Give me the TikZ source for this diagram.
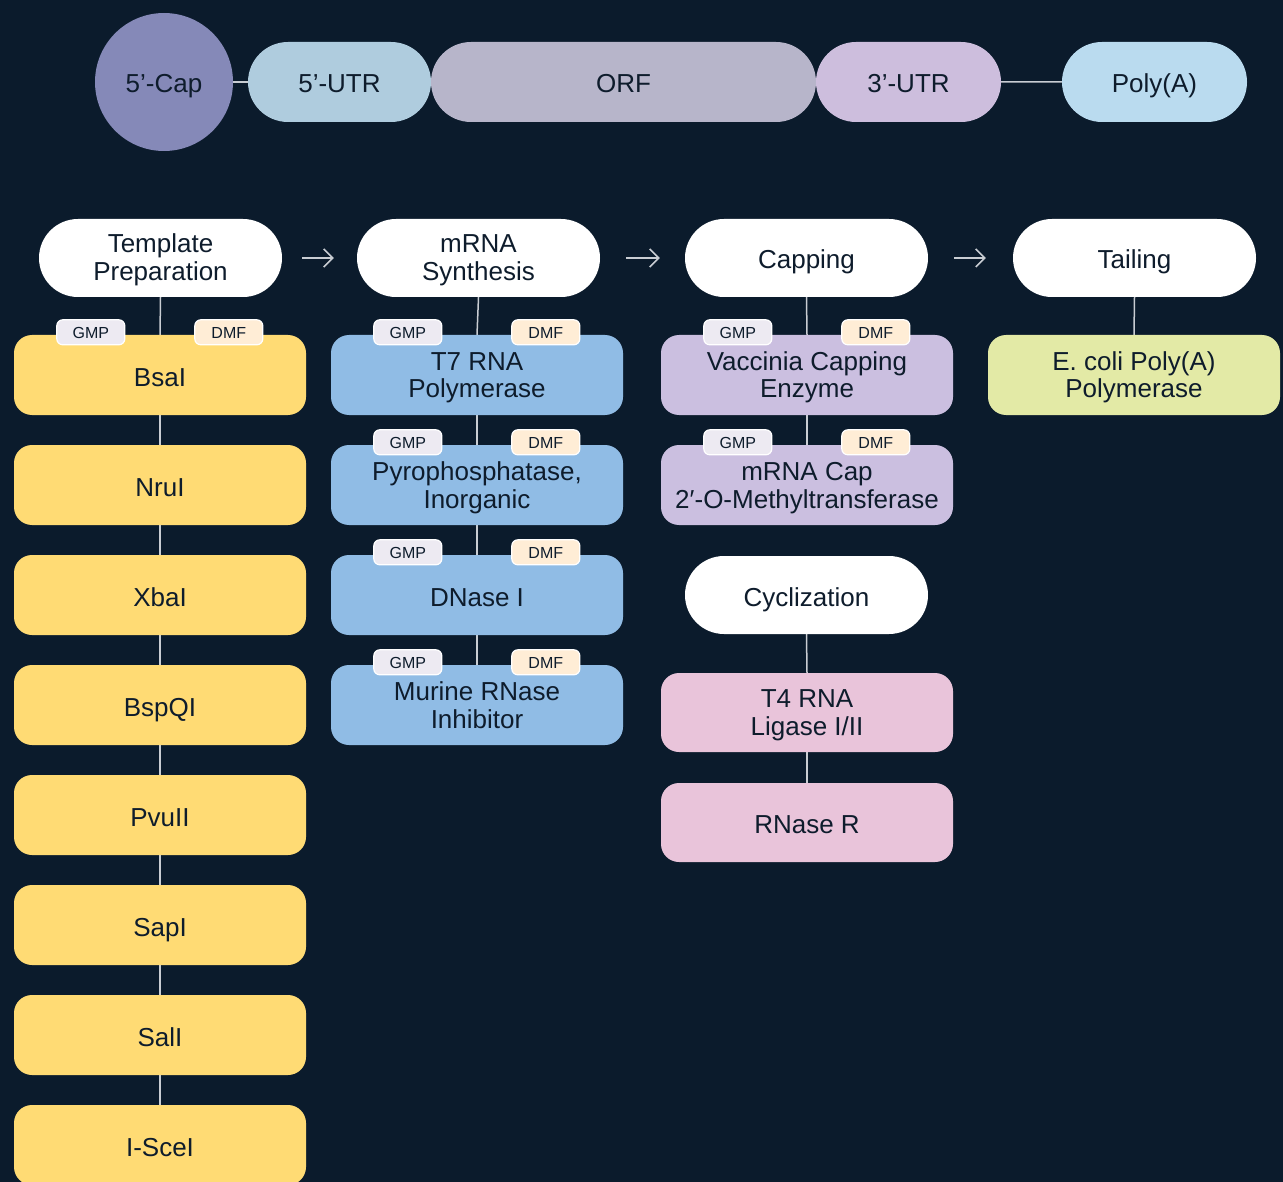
\documentclass[tikz,border=0pt]{standalone}
\usepackage{fontspec}
\setmainfont{Liberation Sans}
\usetikzlibrary{arrows.meta,shapes.misc}
\definecolor{bgc}{HTML}{0B1B2C}
\definecolor{dark}{HTML}{0E1C2C}
\definecolor{capc}{HTML}{8589B8}
\definecolor{utrf}{HTML}{AFCCDE}
\definecolor{orfc}{HTML}{B7B5CA}
\definecolor{utrt}{HTML}{CDBEDD}
\definecolor{polyc}{HTML}{BADBEF}
\definecolor{yel}{HTML}{FFDB74}
\definecolor{blu}{HTML}{90BCE5}
\definecolor{lav}{HTML}{CBBFE0}
\definecolor{pnk}{HTML}{E9C4DA}
\definecolor{grn}{HTML}{E3EAA6}
\definecolor{gmpc}{HTML}{EDEAF2}
\definecolor{dmfc}{HTML}{FFEDD6}
\definecolor{lnc}{HTML}{C9CDD3}
\pgfdeclarelayer{bglayer}
\pgfdeclarelayer{lnlayer}
\pgfsetlayers{bglayer,lnlayer,main}
\newcommand\bigfont{\fontsize{26}{28}\selectfont}
\newcommand\tagfont{\fontsize{16}{16}\selectfont}
\newcommand\ol[1]{\raisebox{0pt}[22pt][0pt]{#1}}
\newcommand\tl[2]{\raisebox{0pt}[46pt][0pt]{\begin{tabular}[b]{@{}c@{}}#1\\#2\end{tabular}}}
\newcommand\mytags[1]{%
  \node[tagbox,fill=gmpc] (#1g) at ([xshift=77pt,yshift=2.5pt]#1.north west) {\raisebox{0pt}[12pt][0pt]{GMP}};
  \node[tagbox,fill=dmfc] (#1d) at ([xshift=215pt,yshift=2.5pt]#1.north west) {\raisebox{0pt}[12pt][0pt]{DMF}};}
\begin{document}
\begin{tikzpicture}[x=1pt,y=-1pt,
  box/.style={rectangle, rounded corners=18pt, minimum width=292pt, minimum height=80pt,
    align=center, font=\bigfont, text=dark, inner sep=0pt},
  pill/.style={rounded rectangle, minimum height=80pt, align=center, font=\bigfont,
    text=dark, inner sep=0pt},
  head/.style={rounded rectangle, minimum height=78pt, minimum width=243pt, fill=white,
    align=center, font=\bigfont, text=dark, inner sep=0pt},
  tagbox/.style={rectangle, rounded corners=6pt, minimum width=68pt, minimum height=25pt,
    draw=white, line width=1.2pt, font=\tagfont, text=dark, inner sep=0pt},
  conn/.style={draw=lnc, line width=1.5pt},
  flow/.style={draw=lnc, line width=1.5pt, -{Straight Barb[length=9pt,width=18pt,line width=1.5pt]}}
]
\begin{pgfonlayer}{bglayer}
\fill[bgc] (0,0) rectangle (1283,1182);
\end{pgfonlayer}
\useasboundingbox (0,0) rectangle (1283,1182);

% top mRNA structure
\node[circle, minimum size=138pt, fill=capc, font=\bigfont, text=dark, inner sep=0pt] (cap) at (164,82) {\ol{5’-Cap}};
\node[pill, fill=utrf, minimum width=183pt] (utr5) at (339.5,82) {\ol{5’-UTR}};
\node[pill, fill=orfc, minimum width=385pt] (orf) at (623.5,82) {\ol{ORF}};
\node[pill, fill=utrt, minimum width=185pt] (utr3) at (908.5,82) {\ol{3’-UTR}};
\node[pill, fill=polyc, minimum width=185pt] (polya) at (1154.5,82) {\ol{Poly(A)}};

% headers
\node[head] (h1) at (160.5,258) {\tl{Template}{Preparation}};
\node[head] (h2) at (478.5,258) {\tl{mRNA}{Synthesis}};
\node[head] (h3) at (806.5,258) {\ol{Capping}};
\node[head] (h4) at (1134.5,258) {\ol{Tailing}};
\node[head] (cy) at (806.5,595) {\ol{Cyclization}};

% column 1
\node[box, fill=yel] (b1) at (160,375) {\ol{BsaI}};
\node[box, fill=yel] (b2) at (160,485) {\ol{NruI}};
\node[box, fill=yel] (b3) at (160,595) {\ol{XbaI}};
\node[box, fill=yel] (b4) at (160,705) {\ol{BspQI}};
\node[box, fill=yel] (b5) at (160,815) {\ol{PvuII}};
\node[box, fill=yel] (b6) at (160,925) {\ol{SapI}};
\node[box, fill=yel] (b7) at (160,1035) {\ol{SalI}};
\node[box, fill=yel] (b8) at (160,1145) {\ol{I-SceI}};

% column 2
\node[box, fill=blu] (s1) at (477,375) {\tl{T7 RNA}{Polymerase}};
\node[box, fill=blu] (s2) at (477,485) {\tl{Pyrophosphatase,}{Inorganic}};
\node[box, fill=blu] (s3) at (477,595) {\ol{DNase I}};
\node[box, fill=blu] (s4) at (477,705) {\tl{Murine RNase}{Inhibitor}};

% column 3
\node[box, fill=lav] (c1) at (807,375) {\tl{Vaccinia Capping}{Enzyme}};
\node[box, fill=lav] (c2) at (807,485) {\tl{mRNA Cap}{2′-O-Methyltransferase}};
\node[box, fill=pnk, minimum height=79pt] (p1) at (807,712.5) {\tl{T4 RNA}{Ligase I/II}};
\node[box, fill=pnk, minimum height=79pt] (p2) at (807,822.5) {\ol{RNase R}};

% column 4
\node[box, fill=grn] (t1) at (1134,375) {\tl{E. coli Poly(A)}{Polymerase}};

% tags
\mytags{b1}
\mytags{s1}
\mytags{s2}
\mytags{s3}
\mytags{s4}
\mytags{c1}
\mytags{c2}

% connectors
\begin{pgfonlayer}{lnlayer}
\draw[conn] (cap) -- (utr5);
\draw[conn] (utr3) -- (polya);
\draw[conn] (h1.south) -- (b1.north);
\draw[conn] (b1) -- (b2);
\draw[conn] (b2) -- (b3);
\draw[conn] (b3) -- (b4);
\draw[conn] (b4) -- (b5);
\draw[conn] (b5) -- (b6);
\draw[conn] (b6) -- (b7);
\draw[conn] (b7) -- (b8);
\draw[conn] (h2.south) -- (s1.north);
\draw[conn] (s1) -- (s2);
\draw[conn] (s2) -- (s3);
\draw[conn] (s3) -- (s4);
\draw[conn] (h3.south) -- (c1.north);
\draw[conn] (c1) -- (c2);
\draw[conn] (cy.south) -- (p1.north);
\draw[conn] (p1) -- (p2);
\draw[conn] (h4.south) -- (t1.north);
\end{pgfonlayer}
\draw[flow] ([xshift=20pt]h1.east) -- ([xshift=-23pt]h2.west);
\draw[flow] ([xshift=26pt]h2.east) -- ([xshift=-25pt]h3.west);
\draw[flow] ([xshift=26pt]h3.east) -- ([xshift=-27pt]h4.west);
\end{tikzpicture}
\end{document}
